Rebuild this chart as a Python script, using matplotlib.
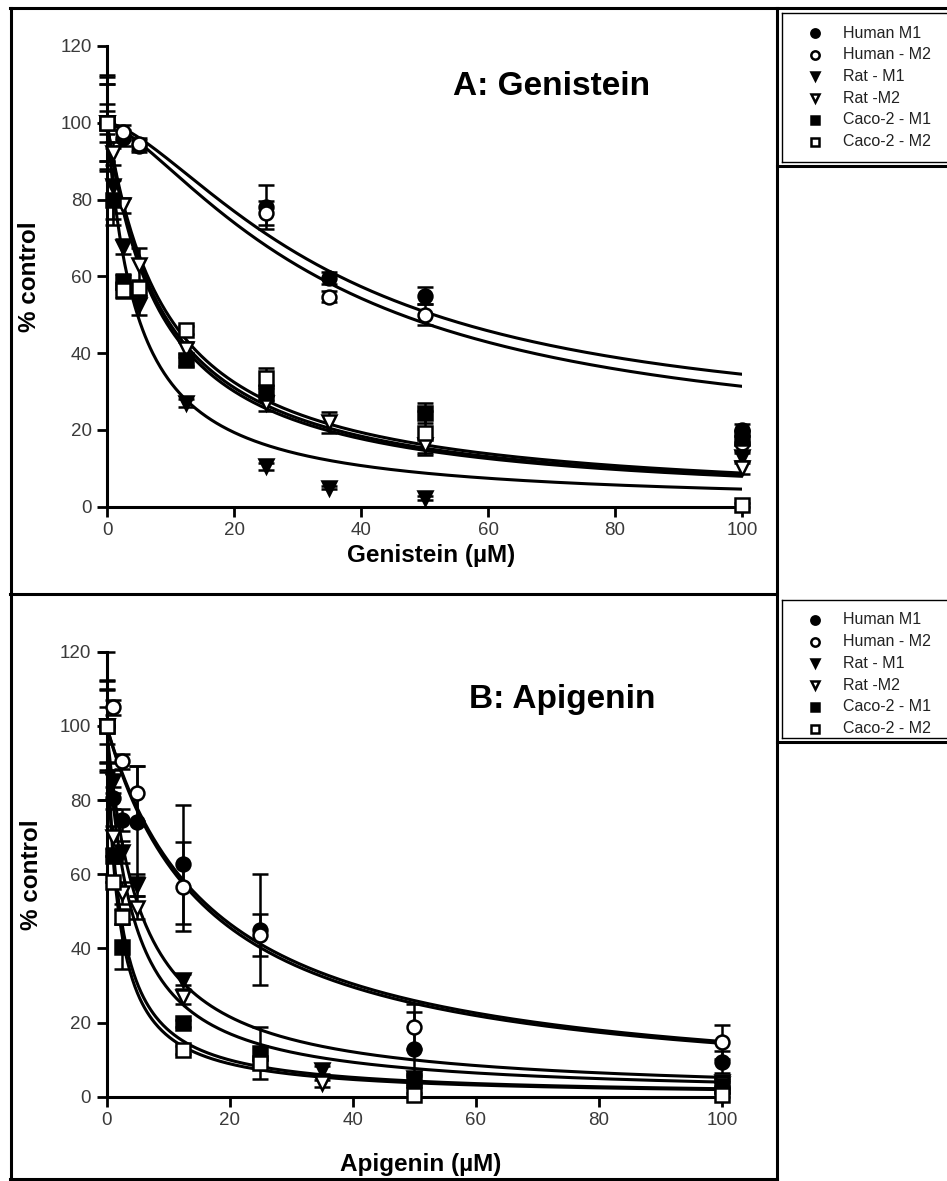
import numpy as np
import matplotlib
matplotlib.use("Agg")
import matplotlib.pyplot as plt
from matplotlib.lines import Line2D

plt.rcParams["font.family"] = ["Liberation Sans", "DejaVu Sans"]

W, H = 947, 1181
nan = np.nan

# ---- data -----------------------------------------------------------------
series = ["Human M1", "Human - M2", "Rat - M1", "Rat -M2", "Caco-2 - M1", "Caco-2 - M2"]
conc = [0, 1, 2.5, 5, 12.5, 25, 35, 50, 100]

# A: Genistein
human_m1_a = [100, nan, 96, 94, nan, 78, 59.6, 55, 20]
human_m2_a = [100, nan, 97.5, 94.5, nan, 76.5, 54.7, 50, 16.5]
rat_m1_a = [100, 83.5, 67.7, 52.5, 27, 10.5, 5, 2.3, 13]
rat_m2_a = [100, 92, 78.5, 63, 41, 27, 22, 16, 10]
caco_m1_a = [100, 80, 58.6, nan, 38.2, 29.6, nan, 24.4, 18]
caco_m2_a = [100, nan, 56.4, 57, 46, 33.5, nan, 19.2, 0.4]

human_m1_a_sd = [12.5, 0, 2, 1.5, 0, 5.7, 1.5, 2.3, 1.5]
human_m2_a_sd = [10, 0, 2, 1.5, 0, 3, 1.5, 2.7, 2]
rat_m1_a_sd = [10, 10, 2, 2.5, 1, 1, 0.5, 0.5, 1]
rat_m2_a_sd = [12, 3, 2, 4.4, 2, 2, 2.7, 2, 1.5]
caco_m1_a_sd = [5, 5, 2, 0, 1.5, 2, 0, 2.5, 2]
caco_m2_a_sd = [3, 0, 2, 2, 1, 2.5, 0, 5.7, 0.5]

# fitted curve parameters (bottom, IC50, hill), top fixed at 100
fit_bottom_a = [20, 15, 0, 0, 0, 0]
fit_ic50_a = [36.6, 35.9, 4.8, 9.6, 9.0, 8.6]
fit_hill_a = [1.5, 1.4, 1, 1, 1, 1]

# B: Apigenin
human_m1_b = [100, 80.5, 74.6, 74.2, 62.7, 45, nan, 12.8, 9.4]
human_m2_b = [100, 105, 90.4, 81.8, 56.6, 43.6, nan, 18.9, 14.8]
rat_m1_b = [100, 85, 66, 57, 31.5, nan, 7.2, 5, 4]
rat_m2_b = [100, 70, 55, 51, 27, nan, 3.6, nan, 3.5]
caco_m1_b = [100, 65, 40.5, nan, 19.8, 11.7, nan, 4.5, 3]
caco_m2_b = [100, 58, 48.5, nan, 12.6, 9, nan, 0.5, 0.5]

human_m1_b_sd = [12.4, 3, 3, 15, 16, 15, 0, 10, 3]
human_m2_b_sd = [9.7, 2, 2, 7.5, 12, 5.6, 0, 6, 4.5]
rat_m1_b_sd = [10, 3, 3, 3, 1.5, 0, 1, 1, 1]
rat_m2_b_sd = [12, 3, 3, 3, 2, 0, 1, 0, 1]
caco_m1_b_sd = [20, 0, 6, 0, 1, 7, 0, 1, 1]
caco_m2_b_sd = [5, 0, 2, 0, 1, 1, 0, 0.5, 0.5]

fit_bottom_b = [0, 0, 0, 0, 0, 0]
fit_ic50_b = [17.5, 16.8, 5.5, 4.1, 2.2, 1.95]
fit_hill_b = [1, 1, 1, 1, 1, 1]

xticks = [0, 20, 40, 60, 80, 100]
yticks = [0, 20, 40, 60, 80, 100, 120]

# marker style per series: (marker, filled)
styles = [("o", True), ("o", False), ("v", True), ("v", False), ("s", True), ("s", False)]


def curve(x, bottom, ic50, hill):
    return bottom + (100 - bottom) / (1 + (x / ic50) ** hill)


def fx(px):
    return px / W


def fy(py):
    return 1 - py / H


def panel(ax, ys, sds, bottoms, ic50s, hills, title, xlabel, title_pos, xlabel_y):
    xs = np.linspace(0, 100, 500)
    for b, c, h in zip(bottoms, ic50s, hills):
        ax.plot(xs, curve(xs, b, c, h), color="black", lw=2.2, zorder=2)
    for (m, filled), y, sd in zip(styles, ys, sds):
        ax.errorbar(conc, y, yerr=sd, fmt=m, ms=10, mew=1.8,
                    mfc="black" if filled else "white", mec="black",
                    ecolor="black", elinewidth=1.8, capsize=6, capthick=1.8,
                    clip_on=False, zorder=3)
    ax.set_xlim(0, 100)
    ax.set_ylim(0, 120)
    ax.set_xticks(xticks)
    ax.set_yticks(yticks)
    for s in ["top", "right"]:
        ax.spines[s].set_visible(False)
    for s in ["left", "bottom"]:
        ax.spines[s].set_linewidth(2.2)
    ax.tick_params(direction="out", length=7, width=2, labelsize=13.5,
                   labelcolor="#3a3a3a", pad=4)
    ax.text(title_pos[0], title_pos[1], title, transform=ax.transAxes,
            ha="center", va="center", fontsize=24, fontweight="bold")
    ax.text(-0.122, 0.5, "% control", transform=ax.transAxes, rotation=90,
            ha="center", va="center", fontsize=17.5, fontweight="bold")
    ax.text(0.51, xlabel_y, xlabel, transform=ax.transAxes,
            ha="center", va="center", fontsize=17.5, fontweight="bold")


fig = plt.figure(figsize=(W / 100, H / 100), dpi=100)

ax_a = fig.add_axes([fx(107), fy(506.7), (742 - 107) / W, (506.7 - 46) / H])
panel(ax_a,
      [human_m1_a, human_m2_a, rat_m1_a, rat_m2_a, caco_m1_a, caco_m2_a],
      [human_m1_a_sd, human_m2_a_sd, rat_m1_a_sd, rat_m2_a_sd, caco_m1_a_sd, caco_m2_a_sd],
      fit_bottom_a, fit_ic50_a, fit_hill_a,
      "A: Genistein", "Genistein (µM)", (0.70, 0.913), -0.105)

ax_b = fig.add_axes([fx(106.5), fy(1096.7), (722 - 106.5) / W, (1096.7 - 651.7) / H])
panel(ax_b,
      [human_m1_b, human_m2_b, rat_m1_b, rat_m2_b, caco_m1_b, caco_m2_b],
      [human_m1_b_sd, human_m2_b_sd, rat_m1_b_sd, rat_m2_b_sd, caco_m1_b_sd, caco_m2_b_sd],
      fit_bottom_b, fit_ic50_b, fit_hill_b,
      "B: Apigenin", "Apigenin (µM)", (0.74, 0.893), -0.152)


# frame lines (pixel coordinates)
def hline(y, x0, x1, lw):
    fig.add_artist(Line2D([fx(x0), fx(x1)], [fy(y), fy(y)], color="black", lw=lw))


def vline(x, y0, y1, lw):
    fig.add_artist(Line2D([fx(x), fx(x)], [fy(y0), fy(y1)], color="black", lw=lw))


hline(8, 10, 947, 2.2)
hline(594, 10, 777, 2.2)
hline(1179, 10, 777, 2.2)
vline(11, 8, 1181, 2.2)
vline(777, 8, 1181, 2.2)

# legends
for top, bottom, first in [(8, 166, 33), (595, 742, 620)]:
    hline(top + 5, 782, 947, 1.0)
    vline(782, top + 5, bottom - 4, 1.0)
    hline(bottom - 4, 782, 947, 1.0)
    hline(bottom, 777, 947, 2.2)
    for i, ((m, filled), name) in enumerate(zip(styles, series)):
        y = first + i * 21.7
        fig.add_artist(Line2D([fx(815)], [fy(y)], marker=m, ms=6, mew=1.8,
                              mfc="black" if filled else "white", mec="black",
                              ls="none"))
        fig.text(fx(843), fy(y), name, ha="left", va="center", fontsize=11.5,
                 color="#222222")

fig.savefig("out.png", dpi=100)
